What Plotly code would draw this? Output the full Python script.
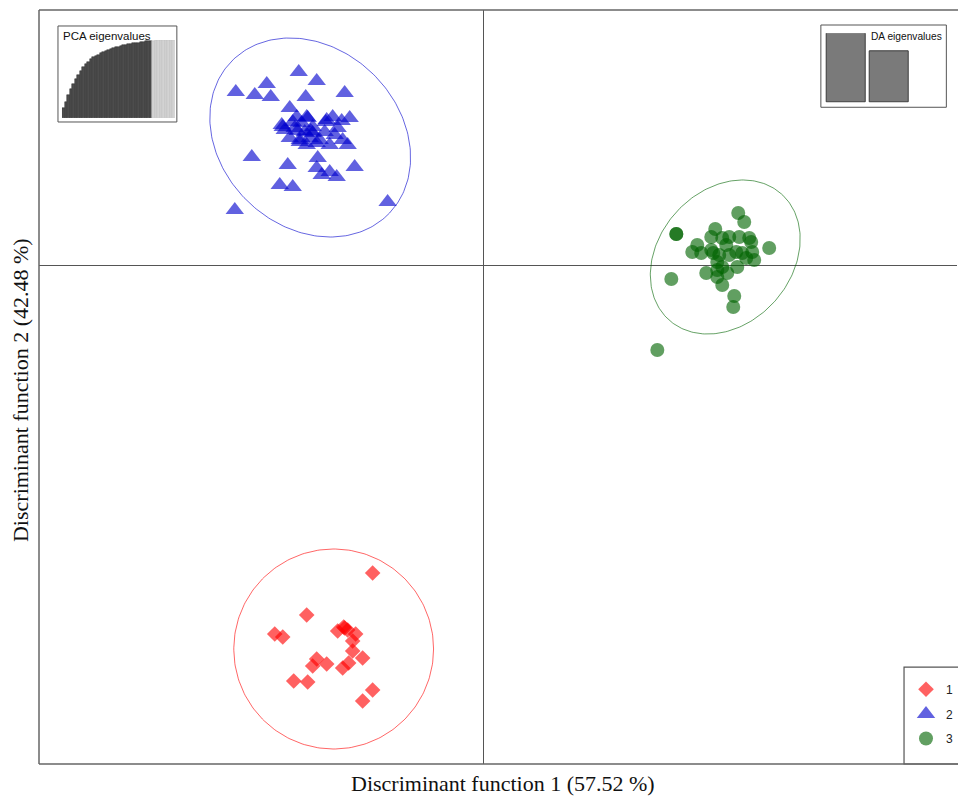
import numpy as np
import plotly.graph_objects as go

# ---- DAPC scores (discriminant functions 1 and 2) ----
g1_x = [-11.1, -17.7, -20.9, -20.1, -14.6, -13.9, -14.0, -13.6, -12.8, -13.1, -13.1,
        -12.1, -16.7, -17.1, -15.7, -14.1, -13.5, -19.0, -17.6, -11.1, -12.1]
g1_y = [-30.8, -35.0, -36.9, -37.2, -36.6, -36.3, -36.2, -36.5, -36.9, -37.6, -38.6,
        -39.3, -39.4, -40.1, -39.9, -40.3, -39.8, -41.6, -41.7, -42.5, -43.6]

g2_x = [-18.5, -16.7, -24.8, -21.7, -22.9, -21.3, -17.8, -13.9, -19.4, -20.2, -18.7,
        -17.7, -15.7, -15.1, -14.2, -13.4, -17.9, -17.1, -19.4, -16.7, -15.4, -14.1,
        -13.6, -14.9, -19.9, -18.4, -23.2, -16.6, -19.6, -16.7, -12.9, -15.4, -16.2,
        -14.7, -20.4, -19.1, -24.9, -9.6, -20.1, -19.1, -18.2, -17.6, -17.1, -15.8,
        -18.6, -17.7, -17.3, -18.4, -17.4, -16.4, -15.9, -14.6, -18.9]
g2_y = [19.3, 18.4, 17.3, 18.1, 17.0, 16.8, 16.8, 17.2, 15.7, 14.0, 14.8,
        14.8, 14.5, 14.8, 14.4, 14.7, 13.3, 13.2, 12.7, 12.2, 12.0, 12.5,
        12.0, 13.0, 13.5, 12.5, 10.8, 10.7, 10.0, 9.7, 9.8, 9.3, 9.0,
        8.8, 8.0, 7.8, 5.5, 6.3, 13.8, 14.3, 14.2, 14.7, 13.8, 14.3,
        13.4, 12.0, 13.4, 12.3, 12.7, 12.5, 13.3, 13.7, 13.7]

g3_x = [25.5, 26.1, 19.3, 19.3, 23.2, 22.8, 21.4, 20.9, 21.8, 22.8, 23.9, 24.6,
        25.6, 26.6, 26.8, 28.6, 24.3, 25.3, 25.9, 26.9, 27.1, 26.3, 23.6, 23.4,
        23.9, 25.4, 22.3, 23.4, 23.9, 24.4, 18.8, 25.1, 25.0, 17.4, 23.0, 24.6, 23.4]
g3_y = [5.2, 4.3, 3.1, 3.1, 3.6, 2.8, 2.0, 1.3, 1.2, 1.5, 2.7, 2.8,
        2.8, 2.7, 2.3, 1.7, 2.0, 1.3, 1.2, 1.3, 0.5, 0.7, 1.0, 0.3,
        -0.2, -0.2, -0.8, -1.2, -2.0, -0.8, -1.4, -3.1, -4.2, -8.5, 1.2, 1.0, -0.5]

group_names = ["1", "2", "3"]
group_colors = ["#FF0000", "#0000CD", "#006400"]
group_symbols = ["diamond", "triangle-up", "circle"]
group_sizes = [12, 16, 14]

# inertia ellipses: centre x, centre y, semi-major, semi-minor, rotation (deg)
ellipses = [(-15.0, -38.4, 10.0, 10.0, 0.0),
            (-17.35, 12.75, 10.96, 8.94, -43.6),
            (24.2, 0.8, 8.45, 6.65, 48.2)]

# PCA inset: cumulative variance (%) per principal component
pca_cumvar = [12.8, 20.5, 29.5, 37.2, 43.6, 50.0, 55.1, 60.3, 65.4, 69.2, 72.4, 75.0,
              77.6, 79.5, 81.4, 83.3, 84.6, 85.9, 87.2, 88.5, 89.7, 90.6, 91.4, 92.3,
              93.1, 93.7, 94.4, 95.0, 95.6, 96.2, 96.7, 97.2, 97.7, 98.1, 98.5, 98.8,
              99.1, 99.4, 99.5, 99.6, 99.7, 99.8, 99.9, 99.95, 100.0]
n_pca_retained = 36

# DA inset: eigenvalues (as % of discrimination)
da_eigen = [57.52, 42.48]

x_title = "Discriminant function 1 (57.52 %)"
y_title = "Discriminant function 2 (42.48 %)"


def ellipse_xy(cx, cy, a, b, angle_deg, n=240):
    t = np.linspace(0, 2 * np.pi, n)
    th = np.deg2rad(angle_deg)
    x = cx + a * np.cos(t) * np.cos(th) - b * np.sin(t) * np.sin(th)
    y = cy + a * np.cos(t) * np.sin(th) + b * np.sin(t) * np.cos(th)
    return x, y


def rgba(hex_color, alpha):
    h = hex_color.lstrip("#")
    r, g, b = int(h[0:2], 16), int(h[2:4], 16), int(h[4:6], 16)
    return f"rgba({r},{g},{b},{alpha})"


fig = go.Figure()

# ellipses underneath the points
for (cx, cy, a, b, ang), col in zip(ellipses, group_colors):
    ex, ey = ellipse_xy(cx, cy, a, b, ang)
    fig.add_trace(go.Scatter(x=ex, y=ey, mode="lines",
                             line=dict(color=rgba(col, 0.6), width=1),
                             hoverinfo="skip", showlegend=False))

groups = [(g1_x, g1_y), (g2_x, g2_y), (g3_x, g3_y)]
for (gx, gy), name, col, sym, sz in zip(groups, group_names, group_colors,
                                        group_symbols, group_sizes):
    fig.add_trace(go.Scatter(
        x=gx, y=gy, mode="markers", name=name, legendgroup=name,
        marker=dict(symbol=sym, size=sz, color=rgba(col, 0.62),
                    line=dict(width=0)),
    ))

# PCA eigenvalue inset
n_pc = len(pca_cumvar)
pc_idx = list(range(n_pc))
pc_colors = ["#4d4d4d" if i < n_pca_retained else "#d3d3d3" for i in pc_idx]
pc_lines = ["#2a2a2a" if i < n_pca_retained else "#bdbdbd" for i in pc_idx]
fig.add_trace(go.Bar(x=pc_idx, y=pca_cumvar, width=1,
                     marker=dict(color=pc_colors, line=dict(color=pc_lines, width=0.5)),
                     xaxis="x2", yaxis="y2", showlegend=False, hoverinfo="skip"))

# DA eigenvalue inset
fig.add_trace(go.Bar(x=[0, 1], y=da_eigen, width=0.92,
                     marker=dict(color="#7a7a7a", line=dict(color="#3a3a3a", width=1)),
                     xaxis="x3", yaxis="y3", showlegend=False, hoverinfo="skip"))

hidden = dict(visible=False, showgrid=False, zeroline=False, fixedrange=True)

fig.update_layout(
    width=958, height=796,
    margin=dict(l=39, r=0, t=10, b=32),
    paper_bgcolor="white", plot_bgcolor="white",
    bargap=0,
    xaxis=dict(range=[-44.5, 47.4], showgrid=False, showticklabels=False, ticks="",
               zeroline=True, zerolinecolor="#555555", zerolinewidth=1.4, showline=False),
    yaxis=dict(range=[-49.9, 25.5], showgrid=False, showticklabels=False, ticks="",
               zeroline=True, zerolinecolor="#555555", zerolinewidth=1.4, showline=False),
    xaxis2=dict(domain=[0.02503, 0.1480], range=[-0.5, n_pc - 0.5], anchor="y2", **hidden),
    yaxis2=dict(domain=[0.8568, 0.9602], range=[0, 100], anchor="x2", **hidden),
    xaxis3=dict(domain=[0.8559, 0.9496], range=[-0.5, 1.5], anchor="y3", **hidden),
    yaxis3=dict(domain=[0.8771, 0.9691], range=[0, max(da_eigen)], anchor="x3", **hidden),
    showlegend=True,
    legend=dict(x=0.9445, y=0.1183, xanchor="left", yanchor="top",
                bgcolor="rgba(0,0,0,0)", borderwidth=0, tracegroupgap=5.6,
                font=dict(family="Liberation Sans, Arial, sans-serif", size=12, color="#222222")),
    font=dict(family="Liberation Sans, Arial, sans-serif"),
)

frame = dict(color="#666666", width=1.5)
fig.add_shape(type="line", xref="paper", yref="paper", x0=0, x1=0, y0=0, y1=1, line=frame)
fig.add_shape(type="line", xref="paper", yref="paper", x0=0, x1=1.01, y0=1, y1=1, line=frame)
fig.add_shape(type="line", xref="paper", yref="paper", x0=0, x1=1.01, y0=0, y1=0, line=frame)

# inset and legend boxes
box = dict(color="#555555", width=1)
fig.add_shape(type="rect", xref="paper", yref="paper", x0=0.02067, x1=0.15016,
              y0=0.85146, y1=0.97878, line=box, layer="below")
fig.add_shape(type="rect", xref="paper", yref="paper", x0=0.8517, x1=0.9884,
              y0=0.8710, y1=0.9801, line=box, layer="below")
fig.add_shape(type="rect", xref="paper", yref="paper", x0=0.9423, x1=1.05,
              y0=0.0, y1=0.1286, line=dict(color="#555555", width=1.2), layer="below")

fig.add_annotation(text="PCA eigenvalues", xref="paper", yref="paper", x=0.0245, y=0.9655,
                   xanchor="left", yanchor="middle", showarrow=False,
                   font=dict(family="Liberation Sans, Arial, sans-serif", size=11.5, color="#111111"))
fig.add_annotation(text="DA eigenvalues", xref="paper", yref="paper", x=0.9040, y=0.9649,
                   xanchor="left", yanchor="middle", showarrow=False,
                   font=dict(family="Liberation Sans Narrow, Liberation Sans, Arial, sans-serif",
                             size=10.2, color="#111111"))

fig.add_annotation(text=x_title, xref="paper", yref="paper", x=0.5054, y=-0.0262,
                   xanchor="center", yanchor="middle", showarrow=False,
                   font=dict(family="Liberation Serif, Times New Roman, serif", size=22, color="#111111"))
fig.add_annotation(text=y_title, xref="paper", yref="paper", x=-0.0207, y=0.496,
                   xanchor="center", yanchor="middle", showarrow=False, textangle=-90,
                   font=dict(family="Liberation Serif, Times New Roman, serif", size=22, color="#111111"))

fig.write_html("out.html")
